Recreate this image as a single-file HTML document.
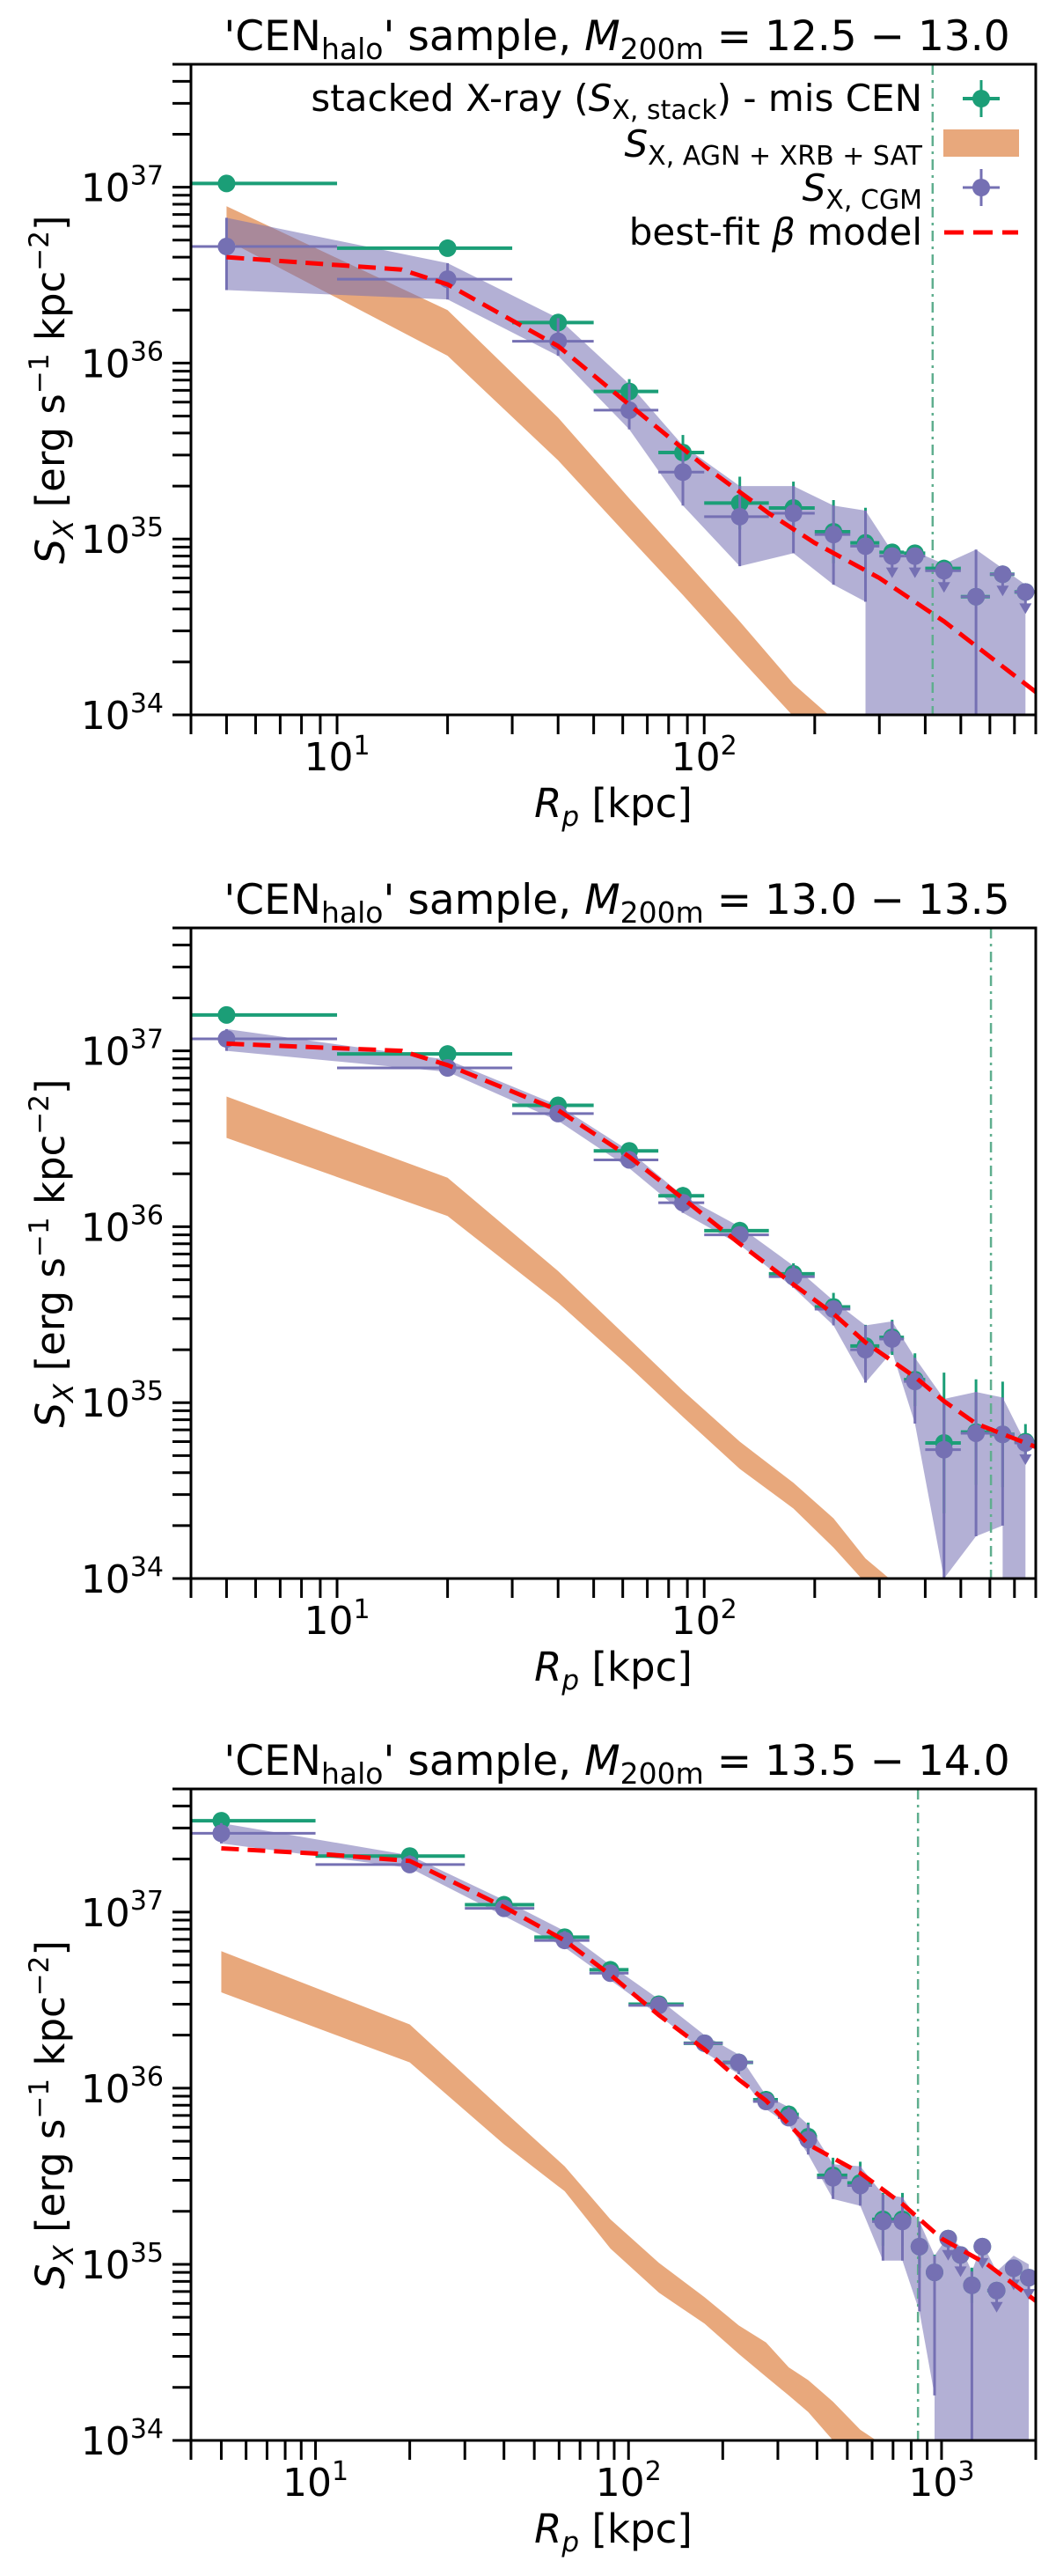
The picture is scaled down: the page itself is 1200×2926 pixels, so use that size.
<!DOCTYPE html>
<html><head><meta charset="utf-8">
<style>
html,body{margin:0;padding:0;background:#fff;}
svg{display:block;font-family:"DejaVu Sans","Liberation Sans",sans-serif;}
</style></head>
<body>
<svg id="fig" xmlns="http://www.w3.org/2000/svg" width="1200" height="2926" viewBox="0 0 1200 2926">
<rect width="1200" height="2926" fill="#fff"/>
</svg>
<script>
// ---------------- Panel 1 data (M200m = 12.5-13.0) ----------------
const p1Centers = [5,20,40,62.5,87.5,125,175,225,275,325,375,450,550,650,750];
const p1BinLo = [0,10,30,50,75,100,150,200,250,300,350,400,500,600,700];
const p1BinHi = [10,30,50,75,100,150,200,250,300,350,400,500,600,700,800];
const p1Stack = [1.05e37,4.5e36,1.7e36,6.9e35,3.1e35,1.6e35,1.5e35,1.1e35,9.5e34,8.4e34,8.3e34,6.8e34,4.7e34,6.3e34,5.0e34];
const p1StackErrDex = [0.02,0.04,0.05,0.07,0.1,0.15,0.15,0.18,0.2,0.03,0.03,0.03,0.03,0.03,0.03];
const p1Cgm = [4.6e36,3.0e36,1.33e36,5.4e35,2.4e35,1.34e35,1.4e35,1.06e35,9.1e34,8.0e34,8.0e34,6.6e34,4.7e34,6.3e34,5.0e34];
const p1CgmUp = [6.7e36,3.7e36,1.8e36,7.6e35,3.4e35,2.0e35,2.0e35,1.55e35,1.45e35,8.5e34,8.5e34,7.2e34,8.7e34,6.8e34,5.5e34];
const p1CgmLo = [2.6e36,2.3e36,1.1e36,4.2e35,1.55e35,7.0e34,8.3e34,5.5e34,4.4e34,1e33,1e33,1e33,1e33,1e33,1e33];
const p1UpperLim = [0,0,0,0,0,0,0,0,0,1,1,1,0,1,1];
const p1OrX = [5,20,40,62.5,87.5,125,175,225];
const p1OrUp = [7.8e36,2.0e36,4.9e35,1.7e35,7.8e34,3.4e34,1.5e34,8.5e33];
const p1OrLo = [5.0e36,1.1e36,2.8e35,1.02e35,4.8e34,2.1e34,9.8e33,5.6e33];
const p1ModelX = [5,15,20,40,62.5,100,150,200,300,450,800];
const p1Model = [4.0e36,3.4e36,2.8e36,1.25e36,5.8e35,2.6e35,1.4e35,9.5e34,6.0e34,3.4e34,1.35e34];
const p1Vline = 419;

// ---------------- Panel 2 data (M200m = 13.0-13.5) ----------------
const p2Centers = [5,20,40,62.5,87.5,125,175,225,275,325,375,450,550,650,750];
const p2BinLo = [0,10,30,50,75,100,150,200,250,300,350,400,500,600,700];
const p2BinHi = [10,30,50,75,100,150,200,250,300,350,400,500,600,700,800];
const p2Stack = [1.6e37,9.6e36,4.9e36,2.7e36,1.5e36,9.5e35,5.4e35,3.5e35,2.1e35,2.35e35,1.35e35,5.9e34,6.8e34,6.6e34,6.0e34];
const p2StackErrDex = [0.02,0.02,0.03,0.04,0.05,0.05,0.06,0.08,0.12,0.1,0.15,0.4,0.3,0.3,0.1];
const p2Cgm = [1.17e37,8.0e36,4.4e36,2.4e36,1.37e36,9.0e35,5.2e35,3.4e35,2.0e35,2.3e35,1.32e35,5.4e34,6.7e34,6.6e34,5.9e34];
const p2CgmUp = [1.33e37,8.9e36,4.9e36,2.7e36,1.5e36,1.0e36,6.0e35,3.8e35,2.75e35,2.9e35,1.8e35,1.05e35,1.15e35,1.07e35,5.9e34];
const p2CgmLo = [1.0e37,7.6e36,4.0e36,2.15e36,1.2e36,7.9e35,4.5e35,2.75e35,1.3e35,1.95e35,7.6e34,1.0e34,1.74e34,2.0e34,1e33];
const p2UpperLim = [0,0,0,0,0,0,0,0,0,0,0,0,0,0,1];
const p2OrX = [5,20,40,62.5,87.5,125,175,225,275,330];
const p2OrUp = [5.5e36,1.9e36,5.6e35,2.3e35,1.17e35,6.0e34,3.5e34,2.2e34,1.3e34,9.0e33];
const p2OrLo = [3.2e36,1.15e36,3.7e35,1.6e35,8.3e34,4.2e34,2.5e34,1.5e34,9.0e33,6.0e33];
const p2ModelX = [5,15,20,40,62.5,87.5,125,175,225,275,375,450,550,800];
const p2Model = [1.1e37,1.0e37,8.3e36,4.6e36,2.5e36,1.45e36,8.0e35,4.7e35,3.2e35,2.2e35,1.4e35,1.02e35,7.6e34,5.6e34];
const p2Vline = 604;

// ---------------- Panel 3 data (M200m = 13.5-14.0) ----------------
const p3Centers = [5,20,40,62.5,87.5,125,175,225,275,325,375,450,550,650,750,850,950,1050,1150,1250,1350,1500,1700,1900];
const p3BinLo = [0,10,30,50,75,100,150,200,250,300,350,400,500,600,700,800,900,1000,1100,1200,1300,1400,1600,1800];
const p3BinHi = [10,30,50,75,100,150,200,250,300,350,400,500,600,700,800,900,1000,1100,1200,1300,1400,1600,1800,2000];
const p3Stack = [3.3e37,2.08e37,1.1e37,7.2e36,4.7e36,3.0e36,1.8e36,1.4e36,8.6e35,7.1e35,5.3e35,3.2e35,2.9e35,1.8e35,1.8e35,1.26e35,9.0e34,1.4e35,1.13e35,7.6e34,1.26e35,7.1e34,9.5e34,8.4e34];
const p3StackErrDex = [0.02,0.02,0.03,0.03,0.03,0.04,0.04,0.05,0.05,0.05,0.08,0.1,0.12,0.15,0.15,0.12,0.1,0.04,0.04,0.1,0.04,0.04,0.04,0.04];
const p3Cgm = [2.8e37,1.86e37,1.05e37,6.9e36,4.5e36,2.95e36,1.8e36,1.4e36,8.4e35,6.8e35,5.1e35,3.1e35,2.8e35,1.75e35,1.75e35,1.26e35,9.0e34,1.4e35,1.13e35,7.6e34,1.26e35,7.1e34,9.5e34,8.4e34];
const p3CgmUp = [3.2e37,2.1e37,1.17e37,7.8e36,5.0e36,3.2e36,2.0e36,1.55e36,9.1e35,7.8e35,6.2e35,3.7e35,3.6e35,2.5e35,2.4e35,1.75e35,1.12e35,1.45e35,1.26e35,9.1e34,1.32e35,9.1e34,1.12e35,1.0e35];
const p3CgmLo = [2.45e37,1.78e37,9.5e36,6.3e36,4.1e36,2.6e36,1.6e36,1.2e36,7.6e35,6.2e35,4.2e35,2.35e35,2.15e35,1.05e35,1.05e35,5.4e34,1.8e34,1e33,1.66e34,1e33,1e33,1e33,1e33,1e33];
const p3UpperLim = [0,0,0,0,0,0,0,0,0,0,0,0,0,0,0,0,0,1,1,0,1,1,1,1];
const p3OrX = [5,20,40,62.5,87.5,125,175,225,275,325,375,450,550,650];
const p3OrUp = [6.0e36,2.3e36,7.4e35,3.6e35,1.8e35,1.02e35,6.5e34,4.5e34,3.6e34,2.6e34,2.2e34,1.66e34,1.15e34,7.0e33];
const p3OrLo = [3.5e36,1.4e36,4.8e35,2.6e35,1.23e35,6.9e34,4.6e34,3.1e34,2.3e34,1.8e34,1.45e34,1.0e34,6.5e33,4.0e33];
const p3ModelX = [5,10,20,40,62.5,87.5,125,175,225,275,375,550,750,1000,1400,2000];
const p3Model = [2.3e37,2.15e37,1.95e37,1.07e37,6.9e36,4.4e36,2.6e36,1.66e36,1.12e36,8.5e35,4.8e35,3.3e35,2.2e35,1.4e35,1.0e35,6.2e34];
const p3Vline = 841;

const yTickExps = [34,35,36,37];
const panelTitles = ['12.5 \u2212 13.0','13.0 \u2212 13.5','13.5 \u2212 14.0'];

// ---------------- drawing ----------------
const NS = 'http://www.w3.org/2000/svg';
const svg = document.getElementById('fig');
const GREEN = '#1b9e77', PURPLE = '#7570b3', ORANGE = '#e8a87c', TEAL = '#5fae8e';
function mk(tag, attrs, parent){
  const e = document.createElementNS(NS, tag);
  for (const k in attrs) e.setAttribute(k, attrs[k]);
  (parent||svg).appendChild(e);
  return e;
}
const YMIN = 1e34, YMAX = 5e37;

function drawPanel(idx, box, xmax, d){
  const L=box.left, R=box.right, T=box.top, B=box.bottom;
  const lx0 = Math.log10(4), lx1 = Math.log10(xmax);
  const ly0 = Math.log10(YMIN), ly1 = Math.log10(YMAX);
  const X = v => L + (Math.log10(Math.max(v, 1e-9)) - lx0)/(lx1-lx0)*(R-L);
  const Y = v => B - (Math.log10(v) - ly0)/(ly1-ly0)*(B-T);
  const Xc = v => Math.max(L, Math.min(R, X(v)));
  const Yc = v => Math.max(T, Math.min(B+5, Y(v)));

  const g = mk('g', {});
  
  

  const cid = 'clip' + idx;
  const defs = mk('defs', {}, g);
  const cp = mk('clipPath', {id: cid}, defs);
  mk('rect', {x:L, y:T, width:R-L, height:B-T}, cp);
  const plot = mk('g', {'clip-path':'url(#'+cid+')'}, g);
  
  

  // orange band
  let pts = d.orX.map((x,i)=>X(x)+','+Yc(d.orUp[i]));
  pts = pts.concat(d.orX.map((x,i)=>X(x)+','+Yc(d.orLo[i])).reverse());
  const ob = mk('polygon', {points: pts.join(' '), fill: ORANGE}, plot);
  
  

  // purple band (lower edge drops vertically where it leaves the axis)
  pts = d.c.map((x,i)=>X(x)+','+Yc(d.cgmUp[i]));
  const low = [];
  d.c.forEach((x,i)=>{
    low.push(X(x)+','+Yc(d.cgmLo[i]));
    if (i+1 < d.c.length && d.cgmLo[i] > YMIN && d.cgmLo[i+1] < YMIN/5) low.push(X(x)+','+(B+5));
    if (i+1 < d.c.length && d.cgmLo[i] < YMIN/5 && d.cgmLo[i+1] > YMIN) low.push(X(d.c[i+1])+','+(B+5));
  });
  pts = pts.concat(low.reverse());
  const pb = mk('polygon', {points: pts.join(' '), fill: PURPLE, 'fill-opacity': 0.55}, plot);
  
  

  // vertical dash-dot line
  const vl = mk('line', {x1:X(d.vline), x2:X(d.vline), y1:T, y2:B, stroke:TEAL, 'stroke-width':2.5, 'stroke-dasharray':'12 6 3 6'}, plot);
  
  

  // stacked (green) points
  d.c.forEach((x,i)=>{
    const pg = mk('g', {}, plot);
    
    
    const y = Y(d.stack[i]);
    const e = d.gErr[i];
    mk('line', {x1:Xc(d.lo[i]), x2:Xc(d.hi[i]), y1:y, y2:y, stroke:GREEN, 'stroke-width':4}, pg);
    mk('line', {x1:X(x), x2:X(x), y1:Yc(d.stack[i]*Math.pow(10,e)), y2:Yc(d.stack[i]/Math.pow(10,e)), stroke:GREEN, 'stroke-width':3}, pg);
    mk('circle', {cx:X(x), cy:y, r:10, fill:GREEN}, pg);
  });
  // CGM (purple) points
  d.c.forEach((x,i)=>{
    const pg = mk('g', {}, plot);
    
    
    const y = Y(d.cgm[i]);
    mk('line', {x1:Xc(d.lo[i]), x2:Xc(d.hi[i]), y1:y, y2:y, stroke:PURPLE, 'stroke-width':3}, pg);
    if (d.upper[i]) {
      mk('line', {x1:X(x), x2:X(x), y1:y, y2:y+16, stroke:PURPLE, 'stroke-width':3}, pg);
      mk('polygon', {points:(X(x)-7)+','+(y+13)+' '+(X(x)+7)+','+(y+13)+' '+X(x)+','+(y+25), fill:PURPLE}, pg);
    } else {
      mk('line', {x1:X(x), x2:X(x), y1:Yc(d.cgmUp[i]), y2:Yc(d.cgmLo[i]), stroke:PURPLE, 'stroke-width':3}, pg);
    }
    mk('circle', {cx:X(x), cy:y, r:10, fill:PURPLE}, pg);
  });

  // model
  const mp = d.mx.map((x,i)=>X(x)+','+Y(d.model[i])).join(' ');
  const ml = mk('polyline', {points:mp, fill:'none', stroke:'#ff0000', 'stroke-width':5, 'stroke-dasharray':'20 10'}, plot);
  
  

  // spines
  const fr = mk('rect', {x:L, y:T, width:R-L, height:B-T, fill:'none', stroke:'#000', 'stroke-width':3}, g);
  
  

  // x ticks
  const xt = mk('g', {}, g);
  
  
  for (let dec=1; dec<=1000; dec*=10){
    for (let m=1; m<=9; m++){
      const v = m*dec;
      if (v < 4 || v > xmax*1.001) continue;
      const px = X(v);
      mk('line', {x1:px, x2:px, y1:B, y2:B+22, stroke:'#000', 'stroke-width':3}, xt);
      if (m===1){
        const t = mk('text', {x:px, y:B+63, 'font-size':44, 'text-anchor':'middle'}, xt);
        
        
        t.appendChild(document.createTextNode('10'));
        const s = mk('tspan', {'font-size':30, dy:-18}, t);
        s.textContent = String(Math.round(Math.log10(v)));
      }
    }
  }
  // y ticks
  const yt = mk('g', {}, g);
  
  
  for (let e=34; e<=37; e++){
    for (let m=1; m<=9; m++){
      const v = m*Math.pow(10,e);
      if (v > YMAX*1.001) continue;
      const py = Y(v);
      mk('line', {x1:L-21, x2:L, y1:py, y2:py, stroke:'#000', 'stroke-width':3}, yt);
    }
  }
  yTickExps.forEach(e=>{
    const py = Y(Math.pow(10,e));
    const t = mk('text', {x:186, y:py+16, 'font-size':44, 'text-anchor':'end'}, yt);
    
    
    t.appendChild(document.createTextNode('10'));
    const s = mk('tspan', {'font-size':30, dy:-19}, t);
    s.textContent = String(e);
  });

  // title
  const tt = mk('text', {x:(L+R)/2+4, y:T-16, 'font-size':47, 'text-anchor':'middle'}, g);
  
  
  tt.innerHTML = "'CEN<tspan font-size='33' dy='10'>halo</tspan><tspan dy='-10'>' sample, </tspan><tspan font-style='italic'>M</tspan><tspan font-size='33' dy='10'>200m</tspan><tspan dy='-10'> = " + panelTitles[idx] + "</tspan>";

  // x label
  const xl = mk('text', {x:(L+R)/2, y:B+116, 'font-size':45, 'text-anchor':'middle'}, g);
  
  
  xl.innerHTML = "<tspan font-style='italic'>R</tspan><tspan font-style='italic' font-size='31' dy='10'>p</tspan><tspan dy='-10'> [kpc]</tspan>";

  // y label
  const cy = (T+B)/2;
  const yl = mk('text', {x:0, y:0, 'font-size':45, 'text-anchor':'middle', transform:'translate(73,'+cy+') rotate(-90)'}, g);
  
  
  yl.innerHTML = "<tspan font-style='italic'>S</tspan><tspan font-style='italic' font-size='31' dy='10'>X</tspan><tspan dy='-10'> [erg s</tspan><tspan font-size='31' dy='-18'>\u22121</tspan><tspan dy='18'> kpc</tspan><tspan font-size='31' dy='-18'>\u22122</tspan><tspan dy='18'>]</tspan>";
}

const panels = [
  {box:{left:217,right:1177,top:73,bottom:812}, xmax:800,
   d:{c:p1Centers,lo:p1BinLo,hi:p1BinHi,stack:p1Stack,gErr:p1StackErrDex,cgm:p1Cgm,cgmUp:p1CgmUp,cgmLo:p1CgmLo,upper:p1UpperLim,orX:p1OrX,orUp:p1OrUp,orLo:p1OrLo,mx:p1ModelX,model:p1Model,vline:p1Vline}},
  {box:{left:217,right:1177,top:1054,bottom:1793}, xmax:800,
   d:{c:p2Centers,lo:p2BinLo,hi:p2BinHi,stack:p2Stack,gErr:p2StackErrDex,cgm:p2Cgm,cgmUp:p2CgmUp,cgmLo:p2CgmLo,upper:p2UpperLim,orX:p2OrX,orUp:p2OrUp,orLo:p2OrLo,mx:p2ModelX,model:p2Model,vline:p2Vline}},
  {box:{left:217,right:1177,top:2032,bottom:2772}, xmax:2000,
   d:{c:p3Centers,lo:p3BinLo,hi:p3BinHi,stack:p3Stack,gErr:p3StackErrDex,cgm:p3Cgm,cgmUp:p3CgmUp,cgmLo:p3CgmLo,upper:p3UpperLim,orX:p3OrX,orUp:p3OrUp,orLo:p3OrLo,mx:p3ModelX,model:p3Model,vline:p3Vline}}
];
panels.forEach((p,i)=>drawPanel(i, p.box, p.xmax, p.d));

// legend (panel 1)
const lg = mk('g', {});


function legText(y, html, name){
  const t = mk('text', {x:1048, y:y, 'font-size':42, 'text-anchor':'end'}, lg);
  
  
  t.innerHTML = html;
}
legText(126, "stacked X-ray (<tspan font-style='italic'>S</tspan><tspan font-size='30' dy='9'>X, stack</tspan><tspan dy='-9'>) - mis CEN</tspan>", 'legend-entry-stack');
legText(178, "<tspan font-style='italic'>S</tspan><tspan font-size='30' dy='9'>X, AGN + XRB + SAT</tspan>", 'legend-entry-agn');
legText(228, "<tspan font-style='italic'>S</tspan><tspan font-size='30' dy='9'>X, CGM</tspan>", 'legend-entry-cgm');
legText(278, "best-fit <tspan font-style='italic'>\u03b2</tspan> model", 'legend-entry-model');
// markers
mk('line', {x1:1094, x2:1136, y1:112, y2:112, stroke:GREEN, 'stroke-width':4}, lg);
mk('line', {x1:1115, x2:1115, y1:91, y2:133, stroke:GREEN, 'stroke-width':3}, lg);
mk('circle', {cx:1115, cy:112, r:10, fill:GREEN}, lg);
mk('rect', {x:1072, y:147, width:86, height:31, fill:ORANGE}, lg);
mk('line', {x1:1094, x2:1136, y1:213, y2:213, stroke:PURPLE, 'stroke-width':3}, lg);
mk('line', {x1:1115, x2:1115, y1:192, y2:234, stroke:PURPLE, 'stroke-width':3}, lg);
mk('circle', {cx:1115, cy:213, r:10, fill:PURPLE}, lg);
mk('line', {x1:1073, x2:1157, y1:264, y2:264, stroke:'#ff0000', 'stroke-width':5, 'stroke-dasharray':'22 11'}, lg);
</script>
</body></html>
